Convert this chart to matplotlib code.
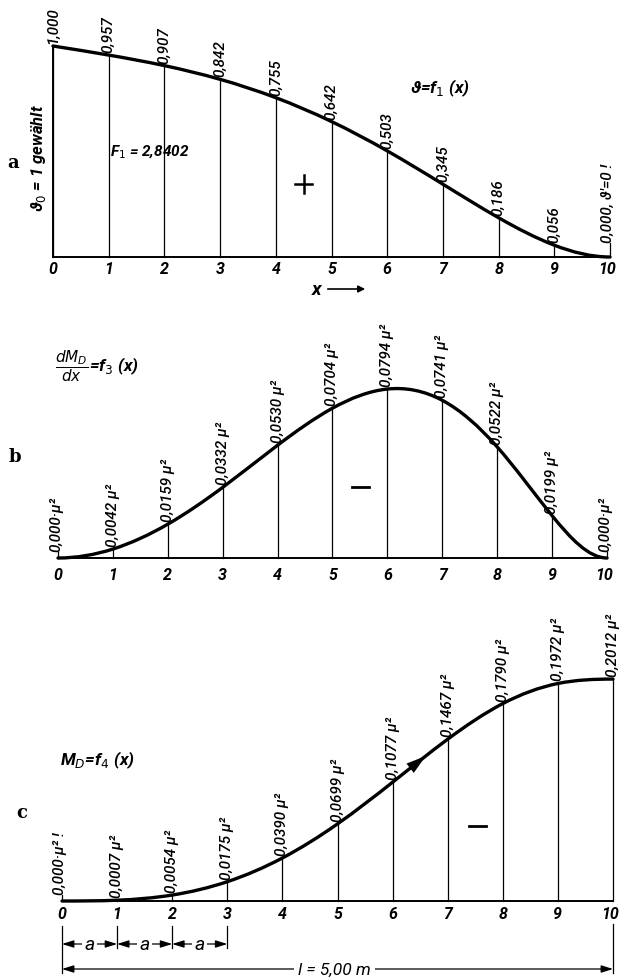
import matplotlib
matplotlib.use("Agg")
import matplotlib.pyplot as plt
import numpy as np
from matplotlib.path import Path
from matplotlib.patches import PathPatch
from matplotlib.lines import Line2D

# stations along the beam
x = np.arange(11)
tick_labels = [str(i) for i in range(11)]

# a) rotation  theta = f1(x)
theta = [1.000, 0.957, 0.907, 0.842, 0.755, 0.642, 0.503, 0.345, 0.186, 0.056, 0.000]
theta_labels = ["1,000", "0,957", "0,907", "0,842", "0,755", "0,642",
                "0,503", "0,345", "0,186", "0,056", "0,000, \u03d1\u2032=0 !"]

# b) dM_D/dx = f3(x)
dmd = [0.000, 0.0042, 0.0159, 0.0332, 0.0530, 0.0704, 0.0794, 0.0741, 0.0522, 0.0199, 0.000]
dmd_labels = ["0,000\u00b7\u00b5\u00b2", "0,0042 \u00b5\u00b2", "0,0159 \u00b5\u00b2",
              "0,0332 \u00b5\u00b2", "0,0530 \u00b5\u00b2", "0,0704 \u00b5\u00b2",
              "0,0794 \u00b5\u00b2", "0,0741 \u00b5\u00b2", "0,0522 \u00b5\u00b2",
              "0,0199 \u00b5\u00b2", "0,000\u00b7\u00b5\u00b2"]

# c) M_D = f4(x)
md = [0.000, 0.0007, 0.0054, 0.0175, 0.0390, 0.0699, 0.1077, 0.1467, 0.1790, 0.1972, 0.2012]
md_labels = ["0,000\u00b7\u00b5\u00b2 !", "0,0007 \u00b5\u00b2", "0,0054 \u00b5\u00b2",
             "0,0175 \u00b5\u00b2", "0,0390 \u00b5\u00b2", "0,0699 \u00b5\u00b2",
             "0,1077 \u00b5\u00b2", "0,1467 \u00b5\u00b2", "0,1790 \u00b5\u00b2",
             "0,1972 \u00b5\u00b2", "0,2012 \u00b5\u00b2"]

W, H = 619, 979
fig = plt.figure(figsize=(W / 100, H / 100), dpi=100)

lab = dict(family=["Roboto", "DejaVu Sans"], style="italic")
PX = 0.72  # points per pixel


def spline_slopes(ys, flat_start=True):
    # cubic spline slopes at the stations (h = 1), flat at the end(s)
    ys = np.asarray(ys, float)
    n = len(ys)
    A = np.zeros((n, n))
    b = np.zeros(n)
    A[-1, -1] = 1
    if flat_start:
        A[0, 0] = 1
    else:
        A[0, 0], A[0, 1] = 2, 1
        b[0] = 3 * (ys[1] - ys[0])
    for i in range(1, n - 1):
        A[i, i - 1], A[i, i], A[i, i + 1] = 1, 4, 1
        b[i] = 3 * (ys[i + 1] - ys[i - 1])
    return np.linalg.solve(A, b)


def smooth_path(xs, ys, flat_start=True):
    xs = np.asarray(xs, float)
    ys = np.asarray(ys, float)
    m = spline_slopes(ys, flat_start)
    verts = [(xs[0], ys[0])]
    codes = [Path.MOVETO]
    for i in range(len(xs) - 1):
        verts += [(xs[i] + 1 / 3, ys[i] + m[i] / 3),
                  (xs[i + 1] - 1 / 3, ys[i + 1] - m[i + 1] / 3),
                  (xs[i + 1], ys[i + 1])]
        codes += [Path.CURVE4] * 3
    return Path(verts, codes)


def panel(top, bottom, x0, x10, base, yscale):
    ax = fig.add_axes([0, 1 - bottom / H, 1, (bottom - top) / H])
    ppu = (x10 - x0) / 10
    ax.set_xlim(-x0 / ppu, (W - x0) / ppu)
    ax.set_ylim(-(bottom - base) / yscale, (base - top) / yscale)
    ax.axis("off")
    return ax


def draw(ax, vals, labels, tick_off, zero_tick, yscale, flat_start=True, last_shift=-3):
    path = smooth_path(x, vals, flat_start)
    ax.add_patch(PathPatch(path, fill=False, lw=2.4, color="black", capstyle="round"))
    ax.plot([0, 10], [0, 0], color="black", lw=1.4)
    for xi, v, t in zip(x, vals, labels):
        if v > 0:
            ax.plot([xi, xi], [0, v], color="black", lw=0.9)
            ax.annotate(t, (xi, v), xytext=(0, 3 * PX), textcoords="offset points",
                        rotation=90, ha="center", va="bottom", fontsize=11,
                        weight="medium", **lab)
        else:
            h = zero_tick / yscale
            ax.plot([xi, xi], [0, h], color="black", lw=0.9)
            ax.annotate(t, (xi, h), xytext=(-2 * PX, 1 * PX), textcoords="offset points",
                        rotation=90, ha="center", va="bottom", fontsize=11,
                        weight="medium", **lab)
        dx = last_shift * PX if xi == 10 else 0
        ax.annotate(tick_labels[xi], (xi, 0), xytext=(dx, -tick_off * PX),
                    textcoords="offset points", ha="center", va="center",
                    fontsize=11.5, weight="bold", **lab)
    return path


def ftext(px, py, s, **kw):
    fig.text(px / W, 1 - py / H, s, **kw)


def fline(x1, x2, y1, y2, lw):
    fig.add_artist(Line2D([x1 / W, x2 / W], [1 - y1 / H, 1 - y2 / H],
                          transform=fig.transFigure, color="black", lw=lw))


# ---- a ----
ax_a = panel(0, 300, 53, 610, 258, 211)
draw(ax_a, theta, theta_labels, 12, 14, 211, flat_start=False)
ax_a.plot([0, 0], [0, theta[0]], color="black", lw=1.4)
ftext(13, 163, "a", family="DejaVu Serif", weight="bold", fontsize=13, ha="center", va="center")
ftext(39, 158, "\u03d1$_0$ = 1 gewählt", rotation=90, ha="center", va="center",
      fontsize=12, weight="bold", **lab)
ftext(110, 152, "F$_1$ = 2,8402", ha="left", va="center", fontsize=11, weight="bold", **lab)
fline(295, 312, 185, 185, 1.8)
fline(303.5, 303.5, 176, 194, 1.8)
ftext(410, 88, "\u03d1=f$_1$ (x)", ha="left", va="center", fontsize=12.5, weight="bold", **lab)
ftext(317, 290, "x", ha="center", va="center", fontsize=14, weight="bold", **lab)
fig.add_artist(matplotlib.patches.FancyArrowPatch(
    (325 / W, 1 - 290 / H), (368 / W, 1 - 290 / H), transform=fig.transFigure,
    arrowstyle="-|>", mutation_scale=10, lw=1.2, color="black"))

# ---- b ----
ax_b = panel(300, 620, 58, 607, 559, 2128)
draw(ax_b, dmd, dmd_labels, 16, 6, 2128)
ftext(15, 457, "b", family="DejaVu Serif", weight="bold", fontsize=13, ha="center", va="center")
ftext(55, 366, r"$\dfrac{dM_D}{dx}$", ha="left", va="center", fontsize=11)
ftext(89, 366, "=f$_3$ (x)", ha="left", va="center", fontsize=12.5, weight="bold", **lab)
fline(352, 369, 488, 488, 2.0)

# ---- c ----
ax_c = panel(620, 979, 62, 613, 902, 1103)
path_c = draw(ax_c, md, md_labels, 13, 6, 1103)
ftext(22, 813, "c", family="DejaVu Serif", weight="bold", fontsize=13, ha="center", va="center")
ftext(60, 760, "M$_D$=f$_4$ (x)", ha="left", va="center", fontsize=12.5, weight="bold", **lab)
fline(469, 486, 827, 827, 2.0)

# arrow head on the M_D curve, segment 6 -> 7
seg = path_c.vertices[3 * 6:3 * 6 + 4]


def bez(p, t):
    return ((1 - t) ** 3) * p[0] + 3 * ((1 - t) ** 2) * t * p[1] + 3 * (1 - t) * t ** 2 * p[2] + t ** 3 * p[3]


ax_c.annotate("", xy=bez(seg, 0.6), xytext=bez(seg, 0.35),
              arrowprops=dict(arrowstyle="-|>,head_length=1.0,head_width=0.3",
                              color="black", lw=0.1, mutation_scale=14,
                              shrinkA=0, shrinkB=0))

# dimension lines under panel c
sc = 1103
dy_a = -(945 - 902) / sc
dy_l = -(970 - 902) / sc
ext_top = -(927 - 902) / sc
ax_c.plot([0, 0], [ext_top, -(974 - 902) / sc], color="black", lw=0.9)
ax_c.plot([10, 10], [-(925 - 902) / sc, -(974 - 902) / sc], color="black", lw=0.9)
for xi in [1, 2, 3]:
    ax_c.plot([xi, xi], [ext_top, -(949 - 902) / sc], color="black", lw=0.9)
for xi in [0, 1, 2]:
    ax_c.annotate("", xy=(xi, dy_a), xytext=(xi + 1, dy_a),
                  arrowprops=dict(arrowstyle="<|-|>,head_length=0.7,head_width=0.22",
                                  color="black", lw=0.9, mutation_scale=10,
                                  shrinkA=0, shrinkB=0))
    ax_c.text(xi + 0.5, dy_a, "a", ha="center", va="center", fontsize=14, **lab,
              bbox=dict(facecolor="white", edgecolor="none", pad=1.5))
ax_c.annotate("", xy=(0, dy_l), xytext=(10, dy_l),
              arrowprops=dict(arrowstyle="<|-|>,head_length=0.7,head_width=0.22",
                              color="black", lw=0.9, mutation_scale=10,
                              shrinkA=0, shrinkB=0))
ax_c.text(4.95, dy_l, "l = 5,00 m", ha="center", va="center", fontsize=12.5, **lab,
          bbox=dict(facecolor="white", edgecolor="none", pad=3))

fig.savefig("out.png", dpi=100, facecolor="white")
